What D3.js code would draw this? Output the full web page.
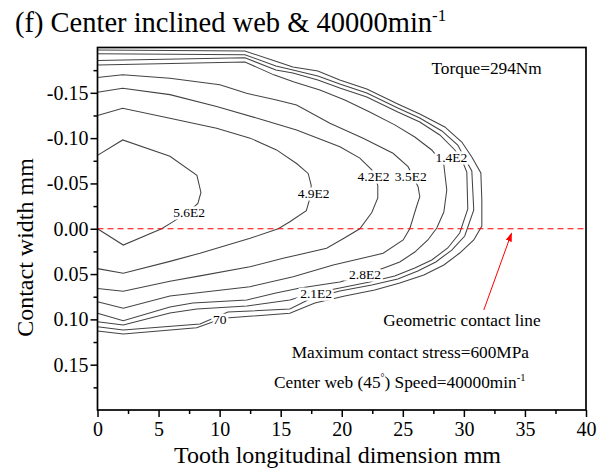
<!DOCTYPE html>
<html><head><meta charset="utf-8">
<script src="https://cdn.jsdelivr.net/npm/d3@7"></script>
<style>
body{margin:0;background:#fff}
text{font-family:"Liberation Serif","Times New Roman",serif;fill:#000}
</style>
</head><body>
<svg id="chart" width="598" height="471"></svg>
<script>
// ---- data (x: tooth longitudinal dimension mm, y: contact width mm) ----
const xMajorTicks = [0,5,10,15,20,25,30,35,40];
const xMinorTicks = [2.5,7.5,12.5,17.5,22.5,27.5,32.5,37.5];
const yMajorTicks = [-0.15,-0.10,-0.05,0.00,0.05,0.10,0.15];
const yMinorTicks = [-0.175,-0.125,-0.075,-0.025,0.025,0.075,0.125,0.175];

const levels = [70,140,210,280,350,420,490,560];

const c70 = [[0,-0.1972],[12.07,-0.1961],[14.78,-0.1840],[16.0,-0.1785],[18.04,-0.1741],[19.84,-0.1641],[22.05,-0.1542],[24.59,-0.1377],[26.39,-0.1266],[28.44,-0.1123],[29.83,-0.0957],[30.65,-0.0791],[31.39,-0.0615],[31.47,-0.0317],[31.47,-0.0030],[30.81,0.0124],[29.66,0.0268],[28.36,0.0400],[26.72,0.0510],[24.75,0.0599],[22.7,0.0676],[20.25,0.0742],[17.8,0.0820],[15.75,0.0933],[10.27,0.0988],[8.12,0.1092],[2.11,0.1161],[0,0.1128]];
const c140 = [[0,-0.1931],[12.07,-0.1920],[14.61,-0.1796],[16.0,-0.1752],[18.04,-0.1685],[19.84,-0.1597],[22.05,-0.1498],[24.59,-0.1332],[26.39,-0.1222],[28.2,-0.1079],[29.5,-0.0924],[30.15,-0.0759],[30.65,-0.0637],[30.81,-0.0207],[30.07,0.0080],[29.01,0.0235],[27.7,0.0367],[26.23,0.0466],[24.59,0.0554],[22.46,0.0621],[19.84,0.0687],[17.39,0.0775],[15.75,0.0886],[10.68,0.0919],[8.39,0.1051],[2.11,0.1117],[0,0.1081]];
const c210 = [[0,-0.1857],[12.07,-0.1887],[14.61,-0.1752],[16.0,-0.1719],[18.04,-0.1641],[19.84,-0.1553],[22.05,-0.1454],[24.59,-0.1288],[26.39,-0.1178],[28.03,-0.1035],[29.26,-0.0869],[29.91,-0.0736],[30.24,-0.0626],[30.32,-0.0218],[29.66,0.0047],[28.68,0.0212],[27.37,0.0345],[25.98,0.0433],[24.34,0.0521],[22.29,0.0588],[19.84,0.0654],[17.39,0.0720],[15.75,0.0786],[12.23,0.0853],[8.14,0.0886],[5.93,0.0930],[2.11,0.1062],[0,0.1026]];
const c280 = [[0,-0.1807],[12.07,-0.1840],[14.44,-0.1698],[16.1,-0.1620],[18.21,-0.1531],[20.25,-0.1421],[22.29,-0.1288],[24.34,-0.1146],[25.98,-0.1012],[27.37,-0.0869],[28.36,-0.0703],[28.6,-0.0428],[28.36,-0.0185],[27.78,-0.0008],[27.05,0.0124],[25.98,0.0257],[24.75,0.0367],[23.45,0.0433],[21.87,0.0510],[19.84,0.0588],[16.59,0.0654],[14.61,0.0709],[12.23,0.0786],[7.81,0.0820],[5.93,0.0864],[2.11,0.1015],[0,0.0933]];
const c350 = [[0,-0.167],[2.06,-0.170],[5.93,-0.166],[10.02,-0.159],[12.2,-0.1495],[14.66,-0.142],[16.3,-0.1366],[19.03,-0.1164],[21.75,-0.0998],[24.2,-0.0833],[25.43,-0.0685],[25.9,-0.056],[26.25,-0.0464],[26.39,-0.0354],[26.12,-0.0243],[25.57,0],[25.03,0.0124],[23.39,0.0271],[19.3,0.040],[16.02,0.0529],[12.48,0.064],[5.93,0.0742],[2.11,0.0878],[0,0.0805]];
const c420 = [[0,-0.1506],[2.06,-0.155],[5.93,-0.148],[9.75,-0.135],[13.57,-0.120],[16.3,-0.109],[19.85,-0.0905],[21.48,-0.078],[22.46,-0.065],[22.95,-0.048],[22.95,-0.034],[22.46,-0.018],[21.48,0],[20.25,0.010],[18.76,0.0216],[15.2,0.0326],[12.48,0.042],[8.39,0.052],[5.93,0.058],[2.11,0.069],[0,0.066]];
const c490 = [[0,-0.125],[2.06,-0.133],[5.93,-0.122],[9.75,-0.111],[12.5,-0.100],[14.66,-0.087],[16.3,-0.072],[17.25,-0.061],[17.5,-0.048],[17.4,-0.034],[17.1,-0.020],[15.75,-0.0077],[14.8,0],[12.5,0.0105],[8.39,0.027],[5.93,0.036],[2.11,0.049],[0,0.044]];
const c560 = [[0,-0.081],[2.06,-0.098],[5.93,-0.080],[8.14,-0.059],[8.47,-0.040],[8.22,-0.028],[7.4,-0.018],[6.1,-0.007],[5.25,0],[2.11,0.018],[0,0]];

const contourLabelText = ["70","1.4E2","2.1E2","2.8E2","3.5E2","4.2E2","4.9E2","5.6E2"];
const contourLabelX    = [10.0, 28.98, 17.9, 21.9, 25.65, 22.6, 17.7, 7.5];
const contourLabelY    = [0.100, -0.079, 0.071, 0.0505, -0.058, -0.058, -0.039, -0.018];

const contactLineY = 0;
const arrowFrom = [31.63, 0.0897];
const arrowTo   = [33.9, 0.005];

// ---- drawing ----
const svg = d3.select("#chart");
svg.append("rect").attr("width",598).attr("height",471).attr("fill","#fff");

const x = d3.scaleLinear().domain([0,40]).range([97.5,586]);
const y = d3.scaleLinear().domain([-0.2,0.2]).range([47.5,410]);

svg.append("defs").append("clipPath").attr("id","clip")
  .append("rect").attr("x",x(0)).attr("y",y(-0.2)).attr("width",x(40)-x(0)).attr("height",y(0.2)-y(-0.2));
svg.select("defs").append("marker").attr("id","arrow").attr("viewBox","0 0 10 10")
  .attr("refX",9).attr("refY",5).attr("markerWidth",9).attr("markerHeight",9)
  .attr("orient","auto").attr("markerUnits","userSpaceOnUse")
  .append("path").attr("d","M0,1.5 L10,5 L0,8.5 Z").attr("fill","#f00");

const line = d3.line().x(d=>x(d[0])).y(d=>y(d[1]));
const contours = [c70,c140,c210,c280,c350,c420,c490,c560];

const plot = svg.append("g").attr("clip-path","url(#clip)");
plot.selectAll("path.contour").data(contours).enter().append("path")
  .attr("class","contour").attr("d",line)
  .attr("fill","none").attr("stroke","#444").attr("stroke-width",1.05);

// contact line
plot.append("path").attr("d",line([[0,contactLineY],[40,contactLineY]]))
  .attr("stroke","#f00").attr("stroke-width",1.2).attr("stroke-dasharray","6,4").attr("fill","none");

// contour labels
plot.selectAll("text.cl").data(contourLabelText).enter().append("text")
  .attr("class","cl")
  .attr("x",(d,i)=>x(contourLabelX[i])).attr("y",(d,i)=>y(contourLabelY[i]))
  .attr("text-anchor","middle").attr("dy","0.35em")
  .style("font-size","13.5px")
  .attr("stroke","#fff").attr("stroke-width",5).attr("paint-order","stroke")
  .attr("fill","#111").text(d=>d);

// arrow
svg.append("line").attr("x1",x(arrowFrom[0])).attr("y1",y(arrowFrom[1]))
  .attr("x2",x(arrowTo[0])).attr("y2",y(arrowTo[1]))
  .attr("stroke","#f00").attr("stroke-width",1).attr("marker-end","url(#arrow)");

// frame
svg.append("rect").attr("x",x(0)).attr("y",y(-0.2)).attr("width",x(40)-x(0)).attr("height",y(0.2)-y(-0.2))
  .attr("fill","none").attr("stroke","#000").attr("stroke-width",1.7);

// axes
const gx = svg.append("g").attr("transform",`translate(0,${y(0.2)})`)
  .call(d3.axisBottom(x).tickValues(xMajorTicks).tickSize(7).tickPadding(5).tickFormat(d=>String(d)));
const gxm = svg.append("g").attr("transform",`translate(0,${y(0.2)})`)
  .call(d3.axisBottom(x).tickValues(xMinorTicks).tickSize(4).tickFormat(""));
const gy = svg.append("g").attr("transform",`translate(${x(0)},0)`)
  .call(d3.axisLeft(y).tickValues(yMajorTicks).tickSize(7).tickPadding(2).tickFormat(d=>d.toFixed(2)));
const gym = svg.append("g").attr("transform",`translate(${x(0)},0)`)
  .call(d3.axisLeft(y).tickValues(yMinorTicks).tickSize(4).tickFormat(""));
[gx,gxm,gy,gym].forEach(g=>{
  g.select(".domain").remove();
  g.selectAll(".tick line").attr("stroke","#000").attr("stroke-width",1.5);
  g.selectAll(".tick text").style("font-size","20px").style("font-family","'Liberation Serif',serif").attr("fill","#000");
});

// axis titles
svg.append("text").attr("x",337.5).attr("y",463).attr("text-anchor","middle")
  .style("font-size","24px").text("Tooth longitudinal dimension mm");
svg.append("text").attr("transform","translate(33,247.5) rotate(-90)").attr("text-anchor","middle")
  .style("font-size","24px").text("Contact width mm");

// title
const t = svg.append("text").attr("x",15).attr("y",32).style("font-size","28.5px");
t.append("tspan").text("(f) Center inclined web & 40000min");
t.append("tspan").attr("dy","-11").style("font-size","17px").text("-1");

// annotations
svg.append("text").attr("x",431.5).attr("y",73.5).style("font-size","17.3px").text("Torque=294Nm");
svg.append("text").attr("x",383.3).attr("y",326).style("font-size","17.3px").text("Geometric contact line");
svg.append("text").attr("x",529).attr("y",358.3).attr("text-anchor","end").style("font-size","17.3px").text("Maximum contact stress=600MPa");
const a = svg.append("text").attr("x",274).attr("y",388.3).style("font-size","17.3px");
a.append("tspan").text("Center web (45");
a.append("tspan").attr("dy","-7").style("font-size","10px").text("°");
a.append("tspan").attr("dy","7").text(")  Speed=40000min");
a.append("tspan").attr("dy","-7").style("font-size","10.5px").text("-1");
</script>
</body></html>
